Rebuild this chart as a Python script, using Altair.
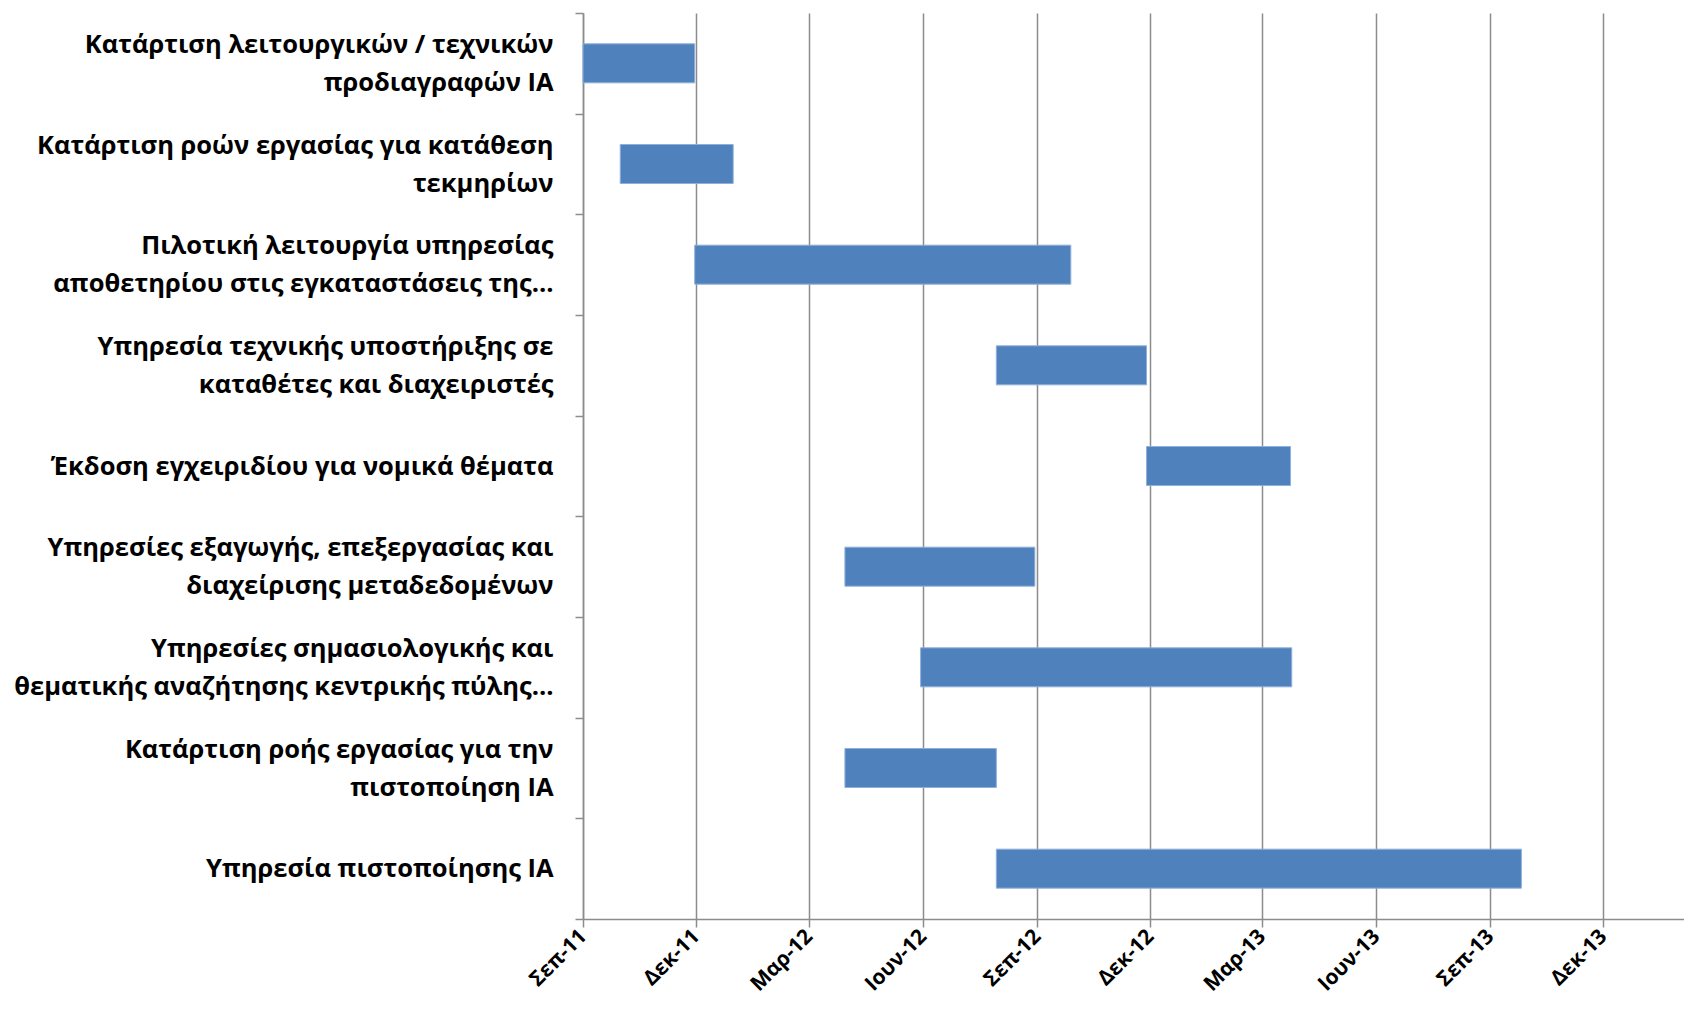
import altair as alt
import pandas as pd

# ---- data ----
tasks = [
    "Κατάρτιση λειτουργικών / τεχνικών|προδιαγραφών ΙΑ",
    "Κατάρτιση ροών εργασίας για κατάθεση|τεκμηρίων",
    "Πιλοτική λειτουργία υπηρεσίας|αποθετηρίου στις εγκαταστάσεις της…",
    "Υπηρεσία τεχνικής υποστήριξης σε|καταθέτες και διαχειριστές",
    "Έκδοση εγχειριδίου για νομικά θέματα",
    "Υπηρεσίες εξαγωγής, επεξεργασίας και|διαχείρισης μεταδεδομένων",
    "Υπηρεσίες σημασιολογικής και|θεματικής αναζήτησης κεντρικής πύλης…",
    "Κατάρτιση ροής εργασίας για την|πιστοποίηση ΙΑ",
    "Υπηρεσία πιστοποίησης ΙΑ",
]
starts = [
    "2011-09-01", "2011-10-01", "2011-11-30", "2012-07-30", "2012-11-28",
    "2012-03-30", "2012-05-30", "2012-03-30", "2012-07-30",
]
ends = [
    "2011-11-30", "2011-12-31", "2012-09-28", "2012-11-28", "2013-03-24",
    "2012-08-30", "2013-03-25", "2012-07-30", "2013-09-26",
]
tick_dates = [(2011, 9), (2011, 12), (2012, 3), (2012, 6), (2012, 9),
              (2012, 12), (2013, 3), (2013, 6), (2013, 9), (2013, 12)]
month_abbr = ["Ιαν", "Φεβ", "Μαρ", "Απρ", "Μαϊ", "Ιουν",
              "Ιουλ", "Αυγ", "Σεπ", "Οκτ", "Νοε", "Δεκ"]
domain_start = (2011, 9, 1)
domain_end = (2014, 2, 4)

df = pd.DataFrame({"task": tasks, "start": starts, "end": ends})

FONT = "Open Sans"
GRAY = "#8c8c8c"
LINE_H = 38

months_js = "[" + ",".join("'%s'" % m for m in month_abbr) + "]"
x_label_expr = months_js + "[utcmonth(datum.value)] + '-' + utcFormat(datum.value, '%y')"

x = alt.X(
    "start:T",
    scale=alt.Scale(
        type="utc",
        domain=[alt.DateTime(year=domain_start[0], month=domain_start[1], date=domain_start[2], utc=True),
                alt.DateTime(year=domain_end[0], month=domain_end[1], date=domain_end[2], utc=True)],
        nice=False,
    ),
    axis=alt.Axis(
        title=None,
        values=[alt.DateTime(year=y, month=m, date=1, utc=True) for y, m in tick_dates],
        labelExpr=x_label_expr,
        labelAngle=-45,
        labelAlign="right",
        labelBaseline="middle",
        labelFont=FONT,
        labelFontSize=21,
        labelFontWeight="bold",
        labelColor="black",
        labelPadding=6,
        labelOverlap=False,
        labelFlush=False,
        tickSize=8,
        tickColor=GRAY,
        tickWidth=1.5,
        domainColor=GRAY,
        domainWidth=1.5,
        grid=True,
        gridColor=GRAY,
        gridWidth=1.5,
    ),
)

y = alt.Y(
    "task:N",
    sort=tasks,
    scale=alt.Scale(paddingInner=0, paddingOuter=0),
    axis=alt.Axis(
        title=None,
        labelExpr="split(datum.label, '|')",
        labelFont=FONT,
        labelFontSize=25.5,
        labelFontWeight="bold",
        labelColor="black",
        labelAlign="right",
        labelBaseline="middle",
        labelLineHeight=LINE_H,
        labelOffset={"condition": {"test": "indexof(datum.label, '|') >= 0", "value": -LINE_H / 2},
                     "value": 0},
        labelPadding=22,
        labelLimit=0,
        tickSize=8,
        tickColor=GRAY,
        tickWidth=1.5,
        tickBand="extent",
        domainColor=GRAY,
        domainWidth=1.5,
        grid=False,
    ),
)

chart = (
    alt.Chart(df)
    .mark_bar(color="#4F81BD", stroke="#8FB0DA", strokeWidth=1, size=39)
    .encode(x=x, x2="end:T", y=y)
    .properties(
        width=1101,
        height=906,
        autosize=alt.AutoSizeParams(type="none"),
        padding={"left": 575, "top": 5, "right": 0, "bottom": 90},
    )
    .configure_view(stroke=None)
)

chart.save("out.html", embed_options={"renderer": "svg", "actions": False})
